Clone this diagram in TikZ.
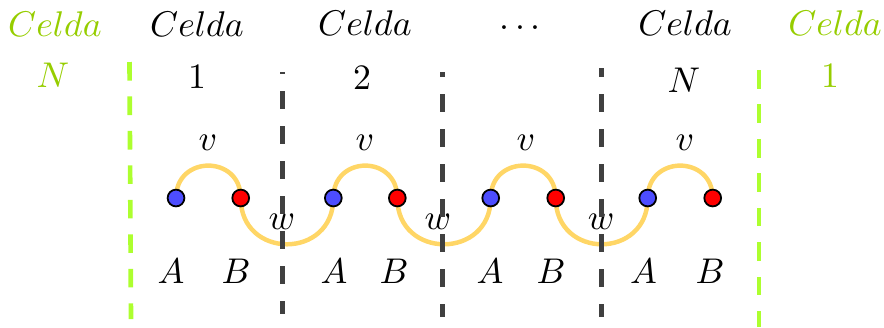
\documentclass[tikz,border=0pt]{standalone}
\usetikzlibrary{backgrounds}
\definecolor{limeline}{RGB}{173,255,47}
\definecolor{limetext}{RGB}{150,205,0}
\definecolor{arcy}{RGB}{255,214,102}
\definecolor{bluedot}{RGB}{77,77,255}
\begin{document}
\begin{tikzpicture}[x=0.28pt,y=-0.28pt,
  lbl/.style={anchor=base,inner sep=0pt},
  glbl/.style={lbl,text=limetext},
  dot/.style={circle,draw=black,line width=0.5pt,minimum size=4.7pt,inner sep=0pt},
  adot/.style={dot,fill=bluedot},
  bdot/.style={dot,fill=red},
  bond/.style={draw=arcy,line width=1.25pt},
  celline/.style={draw=black!75,line width=1.4pt,dash pattern=on 5.04pt off 4.76pt},
  edgeline/.style={draw=limeline,line width=1.3pt,dash pattern=on 5.2pt off 4.45pt}]
\useasboundingbox (0,0) rectangle (884,327);

% labels
\node[glbl] (cl) at (55,36) {$Celda$};
\node[glbl] (nl) at (53,87) {$N$};
\node[lbl] (c1) at (197,36) {$Celda$};
\node[lbl] (n1) at (197,88) {$1$};
\node[lbl] (c2) at (365,35) {$Celda$};
\node[lbl] (n2) at (362,89) {$2$};
\node[lbl] (cd) at (520,36) {$\cdots$};
\node[lbl] (cN) at (685,35) {$Celda$};
\node[lbl] (nN) at (684,92) {$N$};
\node[glbl] (cr) at (835,35) {$Celda$};
\node[glbl] (nr) at (830,87) {$1$};

\foreach \x/\i in {208/1,365/2,526/3,685/4}
  \node[lbl] (v\i) at (\x,150) {$v$};
\foreach \x/\i in {282/1,438/2,601/3}
  \node[lbl] (w\i) at (\x,229) {$w$};
\foreach \x/\i in {171/1,334/2,490/3,643.5/4}
  \node[lbl] (la\i) at (\x,283) {$A$};
\foreach \x/\i in {236/1,394/2,551/3,710/4}
  \node[lbl] (lb\i) at (\x,283) {$B$};

% sites
\node[adot] (A1) at (176,198) {};
\node[bdot] (B1) at (240.7,198) {};
\node[adot] (A2) at (333.3,198) {};
\node[bdot] (B2) at (397.3,198) {};
\node[adot] (A3) at (490.7,198) {};
\node[bdot] (B3) at (555.7,198) {};
\node[adot] (A4) at (647.7,198) {};
\node[bdot] (B4) at (712.7,198) {};

% bonds
\begin{scope}[on background layer]
  \foreach \i in {1,2,3,4}
    \draw[bond] (A\i.center) .. controls +(0,-43.2) and +(0,-43.2) .. (B\i.center);
  \draw[bond] (B1.center) .. controls +(0,61.7) and +(0,61.7) .. (A2.center);
  \draw[bond] (B2.center) .. controls +(0,61.7) and +(0,61.7) .. (A3.center);
  \draw[bond] (B3.center) .. controls +(0,61.7) and +(0,61.7) .. (A4.center);
\end{scope}

% cell borders
\coordinate (g1t) at (282,72);  \coordinate (g1b) at (282,314);
\coordinate (g2t) at (442,72);  \coordinate (g2b) at (442,317);
\coordinate (g3t) at (601,68);  \coordinate (g3b) at (601,317);
\draw[celline,dash phase=4.48pt] (g1t) -- (g1b);
\draw[celline,dash phase=3.64pt] (g2t) -- (g2b);
\draw[celline,dash phase=2.52pt] (g3t) -- (g3b);

\coordinate (e1t) at (129.5,62); \coordinate (e1b) at (131,319);
\coordinate (e2t) at (759,70);   \coordinate (e2b) at (759,327);
\draw[edgeline] (e1t) -- (e1b);
\draw[edgeline] (e2t) -- (e2b);
\end{tikzpicture}
\end{document}
